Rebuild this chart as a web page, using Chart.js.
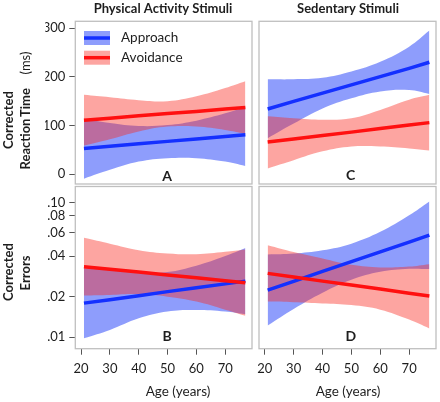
<!DOCTYPE html>
<html><head><meta charset="utf-8">
<script src="https://cdn.jsdelivr.net/npm/chart.js@4.4.1/dist/chart.umd.min.js"></script>
<style>
html,body{margin:0;padding:0;background:#fff;}
#wrap{position:relative;width:440px;height:402px;overflow:hidden;}
canvas{position:absolute;left:0;top:0;}
</style></head><body>
<div id="wrap">
<canvas id="cA" width="440" height="402"></canvas>
<canvas id="cC" width="440" height="402"></canvas>
<canvas id="cB" width="440" height="402"></canvas>
<canvas id="cD" width="440" height="402"></canvas>
</div>
<script>
// ---------- data ----------
const ages = [21, 30, 40, 50, 60, 70, 77];
const seriesNames = ['Approach', 'Avoidance'];
const panelTitles = ['Physical Activity Stimuli', 'Sedentary Stimuli'];
const panelLetters = ['A', 'C', 'B', 'D'];
const rtTicks = [0, 100, 200, 300];
const errTicks = [0.01, 0.02, 0.04, 0.06, 0.08, 0.10];
const errTickLabels = ['.01', '.02', '.04', '.06', '.08', '.10'];
const ageTicks = [20, 30, 40, 50, 60, 70];

// Panel A: Physical activity, corrected reaction time (ms)
const aApproach   = [53, 57.5, 62.5, 67.5, 72.5, 77.5, 81];
const aApproachHi = [114, 105, 99, 101, 110, 125, 138];
const aApproachLo = [-9, 9, 26, 33, 33, 26, 17];
const aAvoid      = [111, 115, 120, 124.5, 129, 134, 137];
const aAvoidHi    = [163, 158, 152, 150, 160, 177, 191];
const aAvoidLo    = [59, 72, 88, 98, 98, 91, 83];

// Panel C: Sedentary, corrected reaction time (ms)
const cApproach   = [134, 149.5, 166.5, 183.5, 200.5, 217.5, 230];
const cApproachHi = [195, 195, 198, 211, 231, 262, 295];
const cApproachLo = [74, 104, 135, 156, 170, 173, 165];
const cAvoid      = [66, 72.5, 79.5, 86.5, 94, 101, 106];
const cAvoidHi    = [119, 115, 112, 115, 132, 153, 163];
const cAvoidLo    = [12, 29, 47, 57, 57, 53, 49];

// Panel B: Physical activity, corrected errors
const bApproach   = [0.0179, 0.0190, 0.0203, 0.0218, 0.0233, 0.0249, 0.0261];
const bApproachHi = [0.0326, 0.0318, 0.0300, 0.0305, 0.0340, 0.0401, 0.0461];
const bApproachLo = [0.0098, 0.0113, 0.0138, 0.0155, 0.0159, 0.0155, 0.0148];
const bAvoid      = [0.0334, 0.0320, 0.0305, 0.0290, 0.0276, 0.0263, 0.0254];
const bAvoidHi    = [0.0548, 0.0496, 0.0443, 0.0419, 0.0414, 0.0431, 0.0449];
const bAvoidLo    = [0.0204, 0.0206, 0.0209, 0.0200, 0.0184, 0.0160, 0.0144];

// Panel D: Sedentary, corrected errors
const dApproach   = [0.0224, 0.0260, 0.0308, 0.0364, 0.0431, 0.0509, 0.0573];
const dApproachHi = [0.0412, 0.0419, 0.0443, 0.0496, 0.0607, 0.0806, 0.1023];
const dApproachLo = [0.0122, 0.0162, 0.0214, 0.0267, 0.0306, 0.0322, 0.0321];
const dAvoid      = [0.0298, 0.0280, 0.0261, 0.0244, 0.0228, 0.0212, 0.0202];
const dAvoidHi    = [0.0483, 0.0430, 0.0385, 0.0345, 0.0330, 0.0335, 0.0349];
const dAvoidLo    = [0.0184, 0.0182, 0.0178, 0.0173, 0.0160, 0.0135, 0.0116];

// ---------- style ----------
Chart.defaults.font.family = 'Lato';
const W = 440, H = 402;
const blueLine = '#1430ff', redLine = '#ff1010';
const blueFill = 'rgba(30,60,250,0.5)', redFill = 'rgba(250,40,30,0.42)';
const textColor = '#1e1e1e';

function pts(arr) { return ages.map((a, i) => ({ x: a, y: arr[i] })); }
function band(hi, lo, color, ord) {
  return [
    { data: pts(hi), fill: '+1', backgroundColor: color, borderColor: 'transparent', borderWidth: 0, pointRadius: 0, tension: 0.4, order: ord },
    { data: pts(lo), fill: false, borderColor: 'transparent', borderWidth: 0, pointRadius: 0, tension: 0.4, order: ord }
  ];
}
function line(arr, color, ord) {
  return { data: pts(arr), fill: false, borderColor: color, borderWidth: 3.5, pointRadius: 0, tension: 0, order: ord, borderCapStyle: 'butt' };
}
// rotated word, centred at (cx, cy)
function vword(ctx, t, font, cx, cy) {
  ctx.save();
  ctx.translate(cx, cy);
  ctx.rotate(-Math.PI / 2);
  ctx.font = font; ctx.fillStyle = textColor;
  ctx.textBaseline = 'middle'; ctx.textAlign = 'center';
  ctx.fillText(t, 0, 0);
  ctx.restore();
}

function makeChart(id, o) {
  const a = o.area, yW = 30, xH = 30;
  const decor = {
    id: 'decor' + id,
    afterDraw(chart) {
      const ctx = chart.ctx, ca = chart.chartArea;
      ctx.save();
      ctx.strokeStyle = '#bfbfbf'; ctx.lineWidth = 1.3;
      ctx.strokeRect(ca.left, ca.top, ca.right - ca.left, ca.bottom - ca.top);
      ctx.fillStyle = textColor; ctx.font = 'bold 14px Lato';
      ctx.textAlign = 'center'; ctx.textBaseline = 'middle';
      ctx.fillText(o.letter, o.letterPos[0], o.letterPos[1]);
      if (o.extra) o.extra(ctx, chart);
      ctx.restore();
    }
  };
  const yScale = o.log ? {
    type: 'logarithmic', min: 0.0082, max: 0.132,
    afterBuildTicks: s => { s.ticks = errTicks.map(v => ({ value: v })); },
    ticks: { callback: (v, i) => errTickLabels[i] }
  } : {
    type: 'linear', min: -20, max: 314,
    afterBuildTicks: s => { s.ticks = rtTicks.map(v => ({ value: v })); },
    ticks: { callback: v => String(v) }
  };
  Object.assign(yScale, {
    display: o.yShow,
    grid: { drawOnChartArea: false, drawTicks: true, tickLength: 6, color: '#555', lineWidth: 1 },
    border: { display: false }
  });
  if (o.yShow) yScale.afterFit = s => { s.width = yW; };
  yScale.ticks = Object.assign(yScale.ticks, { color: textColor, font: { size: 13 }, padding: 4 });

  const xScale = {
    type: 'linear', min: 18, max: 79.3, display: o.xShow,
    afterBuildTicks: s => { s.ticks = ageTicks.map(v => ({ value: v })); },
    ticks: { callback: v => String(v), color: textColor, font: { size: 13 }, padding: 6, maxRotation: 0 },
    grid: { drawOnChartArea: false, drawTicks: true, tickLength: 6, color: '#555', lineWidth: 1 },
    border: { display: false }
  };
  if (o.xShow) xScale.afterFit = s => { s.height = xH; };

  new Chart(document.getElementById(id), {
    type: 'line',
    data: {
      datasets: [
        ...band(o.bHi, o.bLo, blueFill, 4),
        ...band(o.rHi, o.rLo, redFill, 3),
        line(o.bLine, blueLine, 2),
        line(o.rLine, redLine, 1)
      ]
    },
    options: {
      responsive: false, animation: false, devicePixelRatio: 1,
      layout: { padding: { left: a.l - (o.yShow ? yW : 0), top: a.t, right: W - a.r, bottom: H - a.b - (o.xShow ? xH : 0) } },
      plugins: { legend: { display: false }, tooltip: { enabled: false } },
      scales: { x: xScale, y: yScale }
    },
    plugins: [decor]
  });
}

makeChart('cA', {
  area: { l: 75.3, t: 21.3, r: 252, b: 184 }, yShow: true, xShow: false, log: false,
  bLine: aApproach, bHi: aApproachHi, bLo: aApproachLo, rLine: aAvoid, rHi: aAvoidHi, rLo: aAvoidLo,
  letter: panelLetters[0], letterPos: [167, 176.5],
  extra(ctx) {
    ctx.font = 'bold 13px Lato'; ctx.textAlign = 'center'; ctx.textBaseline = 'middle';
    ctx.fillText(panelTitles[0], 163, 8.5);
    ctx.fillText(panelTitles[1], 348, 8.5);
    // legend
    const items = [[seriesNames[0], blueFill, blueLine, 38], [seriesNames[1], redFill, redLine, 57.7]];
    items.forEach(([name, fill, col, cy]) => {
      ctx.fillStyle = fill; ctx.fillRect(84, cy - 7, 26, 14);
      ctx.strokeStyle = col; ctx.lineWidth = 3.5;
      ctx.beginPath(); ctx.moveTo(84, cy); ctx.lineTo(110, cy); ctx.stroke();
      ctx.fillStyle = textColor; ctx.font = '13.5px Lato'; ctx.textAlign = 'left';
      ctx.fillText(name, 121, cy - 0.5);
    });
    // y titles
    vword(ctx, 'Corrected', 'bold 13px Lato', 9, 120);
    vword(ctx, 'Reaction', 'bold 13px Lato', 26, 144);
    vword(ctx, 'Time', 'bold 13px Lato', 26, 102.5);
    vword(ctx, '(ms)', '13px Lato', 26, 63);
    vword(ctx, 'Corrected', 'bold 13px Lato', 9, 272);
    vword(ctx, 'Errors', 'bold 13px Lato', 26, 273);
    // x titles
    ctx.fillStyle = textColor; ctx.font = '13.5px Lato'; ctx.textAlign = 'center'; ctx.textBaseline = 'middle';
    ctx.fillText('Age (years)', 178, 392);
    ctx.fillText('Age (years)', 348, 392);
  }
});
makeChart('cC', {
  area: { l: 259, t: 21.3, r: 436, b: 184 }, yShow: false, xShow: false, log: false,
  bLine: cApproach, bHi: cApproachHi, bLo: cApproachLo, rLine: cAvoid, rHi: cAvoidHi, rLo: cAvoidLo,
  letter: panelLetters[1], letterPos: [350.7, 175]
});
makeChart('cB', {
  area: { l: 75.3, t: 186.5, r: 252, b: 348.7 }, yShow: true, xShow: true, log: true,
  bLine: bApproach, bHi: bApproachHi, bLo: bApproachLo, rLine: bAvoid, rHi: bAvoidHi, rLo: bAvoidLo,
  letter: panelLetters[2], letterPos: [167, 336]
});
makeChart('cD', {
  area: { l: 259, t: 186.5, r: 436, b: 348.7 }, yShow: false, xShow: true, log: true,
  bLine: dApproach, bHi: dApproachHi, bLo: dApproachLo, rLine: dAvoid, rHi: dAvoidHi, rLo: dAvoidLo,
  letter: panelLetters[3], letterPos: [350.7, 336]
});
</script>
</body></html>
